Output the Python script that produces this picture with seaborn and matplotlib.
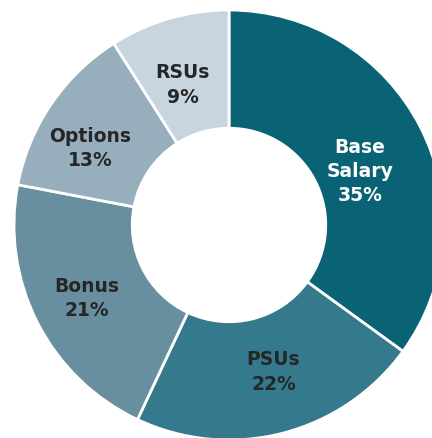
import numpy as np
import matplotlib
matplotlib.use("Agg")
import matplotlib.pyplot as plt
import seaborn as sns

categories = ["Base\nSalary", "PSUs", "Bonus", "Options", "RSUs"]
values = [35, 22, 21, 13, 9]
colors = ["#0a6375", "#34798c", "#688fa0", "#97aebc", "#c8d4de"]
text_colors = ["white", "#262626", "#262626", "#262626", "#262626"]

# label placement relative to each wedge's mid-angle (layout only)
label_radius = [0.66, 0.71, 0.74, 0.74, 0.69]
label_angle_nudge = [-4.5, 2.5, 0.0, 5.0, 2.0]

sns.set_theme(style="white")
plt.rcParams['font.family'] = ['DejaVu Sans']

W, H = 432, 439
fig = plt.figure(figsize=(W / 100, H / 100), dpi=100)
ax = fig.add_axes([0, 0, 1, 1])

cx, cy, R = 229, 226, 215  # pixel geometry of the donut
wedges, _ = ax.pie(values, startangle=90, counterclock=False, colors=colors,
                   radius=1.0,
                   wedgeprops=dict(width=0.55, edgecolor="white", linewidth=2.0))

for w, cat, v, tc, lr, dn in zip(wedges, categories, values, text_colors,
                                 label_radius, label_angle_nudge):
    ang = np.deg2rad((w.theta1 + w.theta2) / 2 + dn)
    x, y = lr * np.cos(ang), lr * np.sin(ang)
    ax.text(x, y, f"{cat}\n{v}%", ha="center", va="center", fontsize=13.5,
            fontweight="bold", color=tc, linespacing=1.35)

ax.set_aspect("auto")
ax.set_xlim(-cx / R, (W - cx) / R)
ax.set_ylim(-(H - cy) / R, cy / R)
ax.axis("off")
fig.savefig("out.png", dpi=100, facecolor="white")
